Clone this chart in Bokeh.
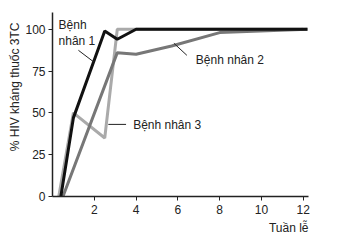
from bokeh.plotting import figure
from bokeh.models import FixedTicker, Range1d, Title
from bokeh.core.properties import value
from bokeh.embed import file_html
from bokeh.resources import INLINE

# Data (weeks, % HIV resistant to 3TC)
p1_weeks = [0.4, 1.0, 2.5, 3.1, 4.0, 12.2]
p1_vals = [0, 47, 99, 94, 100, 100]
p2_weeks = [0.5, 3.1, 4.0, 5.7, 8.0, 12.2]
p2_vals = [0, 86, 85, 90, 98, 100]
p3_weeks = [0.3, 1.0, 2.5, 3.1, 4.0, 12.0]
p3_vals = [0, 50, 35, 100, 100, 100]

x_ticks = [2, 4, 6, 8, 10, 12]
y_ticks = [0, 25, 50, 75, 100]

FONT = "Liberation Sans"

p = figure(width=337, height=245, output_backend="svg", toolbar_location=None,
           x_range=Range1d(0, 12.25), y_range=Range1d(0, 110),
           min_border_left=52, min_border_right=29, min_border_top=12, min_border_bottom=49)
p.outline_line_color = None
p.grid.grid_line_color = None
p.background_fill_color = "white"
p.border_fill_color = "white"

for ax in (p.xaxis[0], p.yaxis[0]):
    ax.axis_line_color = "#222222"
    ax.axis_line_width = 1.5
    ax.major_tick_line_color = "#222222"
    ax.major_tick_in = 0
    ax.major_tick_out = 4
    ax.minor_tick_line_color = None
    ax.major_label_text_font = FONT
    ax.major_label_text_font_size = "12px"
    ax.major_label_text_color = "#222222"

p.xaxis.ticker = FixedTicker(ticks=x_ticks)
p.yaxis.ticker = FixedTicker(ticks=y_ticks)
p.xaxis.major_label_standoff = 4
p.yaxis.major_label_standoff = 3

p.add_layout(Title(text="% HIV kháng thuốc 3TC", align="right", text_font=FONT,
                   text_font_size="12px", text_font_style="normal",
                   text_color="#222222", offset=10, standoff=2), "left")

p.add_layout(Title(text="Tuần lễ", align="right", text_font=FONT,
                   text_font_size="12px", text_font_style="normal",
                   text_color="#222222", offset=0, standoff=4), "below")

p.line(p3_weeks, p3_vals, line_color="#aaaaaa", line_width=3)
p.line(p2_weeks, p2_vals, line_color="#777777", line_width=3)
p.line(p1_weeks, p1_vals, line_color="#111111", line_width=3)

# leader lines
p.segment(x0=[1.24, 5.81, 2.67], y0=[87.4, 91.6, 43.1],
          x1=[2.0, 6.43, 3.52], y1=[80.2, 84.4, 43.1],
          line_color="#222222", line_width=1)

p.text(x=[0.29, 0.29, 6.86, 3.86], y=[102.4, 92.8, 81.4, 42.5],
       text=["Bệnh", "nhân 1", "Bệnh nhân 2", "Bệnh nhân 3"],
       text_font=value(FONT), text_font_size="12px", text_color="#222222",
       text_baseline="middle", text_align="left")

open("out.html", "w").write(file_html(p, INLINE))
